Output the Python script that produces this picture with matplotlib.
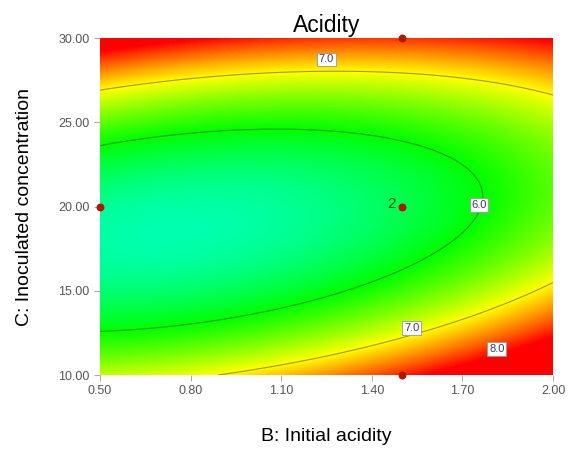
"""
Acidity response surface: contour of B (initial acidity) vs C (inoculated concentration).
"""

import numpy as np
import matplotlib.pyplot as plt
from matplotlib.colors import LinearSegmentedColormap

plt.rcParams["font.family"] = ["Liberation Sans", "DejaVu Sans"]

# factor ranges (actual units)
b_range = [0.50, 2.00]
c_range = [10.00, 30.00]

# quadratic model in coded units: b0, B, C, BC, B^2, C^2
coef_names = ["b0", "B", "C", "BC", "B2", "C2"]
coef_values = [5.49, 0.4675, 0.18, -0.626, 0.41, 2.12]

contour_levels = [6.0, 7.0]
label_texts = ["7.0", "6.0", "7.0", "8.0"]
label_b = [1.25, 1.755, 1.532, 1.814]
label_c = [28.74, 20.09, 12.79, 11.54]

# design points
design_b = [1.50, 0.50, 1.50, 1.50]
design_c = [30.00, 20.00, 20.00, 10.00]

x_ticks = [0.50, 0.80, 1.10, 1.40, 1.70, 2.00]
y_ticks = [10.00, 15.00, 20.00, 25.00, 30.00]


def predict(B, C):
    k = dict(zip(coef_names, coef_values))
    b = (B - 1.25) / 0.75
    c = (C - 20.0) / 10.0
    return (k["b0"] + k["B"] * b + k["C"] * c + k["BC"] * b * c
            + k["B2"] * b ** 2 + k["C2"] * c ** 2)


B, C = np.meshgrid(np.linspace(*b_range, 300), np.linspace(*c_range, 300))
Y = predict(B, C)

cmap = LinearSegmentedColormap.from_list(
    "dx", ["#0000ff", "#00ffff", "#00ff00", "#ffff00", "#ff0000"])

fig = plt.figure(figsize=(5.68, 4.57), dpi=100)
ax = fig.add_axes([100 / 568, 1 - 375 / 457, 453 / 568, 337 / 457])

ax.imshow(Y, origin="lower", extent=[*b_range, *c_range], aspect="auto",
          cmap=cmap, vmin=4.0, vmax=8.0, interpolation="bilinear")
ax.contour(B, C, Y, levels=contour_levels, colors="#3a3a1a",
           linewidths=0.8, alpha=0.5)

for txt, bx, cy in zip(label_texts, label_b, label_c):
    ax.text(bx, cy, txt, ha="center", va="center", fontsize=8,
            color="#3a3a6a",
            bbox=dict(boxstyle="square,pad=0.15", fc="white", ec="#999999", lw=0.6))

ax.scatter(design_b, design_c, s=22, color="#b01800", zorder=5, clip_on=False)
ax.text(1.5 - 0.022, 20.15, "2", ha="right", va="center", fontsize=11,
        color="#1f5a10", zorder=6)

ax.set_xlim(*b_range)
ax.set_ylim(*c_range)
ax.set_xticks(x_ticks)
ax.set_xticklabels([f"{v:.2f}" for v in x_ticks])
ax.set_yticks(y_ticks)
ax.set_yticklabels([f"{v:.2f}" for v in y_ticks])
ax.tick_params(labelsize=9, labelcolor="#555555", color="#999999",
               length=4, width=0.6)
for s in ax.spines.values():
    s.set_visible(False)

ax.set_title("Acidity", fontsize=16.5, pad=4)
ax.set_xlabel("B: Initial acidity", fontsize=14, labelpad=22)
ax.set_ylabel("C: Inoculated concentration", fontsize=14, labelpad=18)

fig.savefig("out.png", dpi=100)
